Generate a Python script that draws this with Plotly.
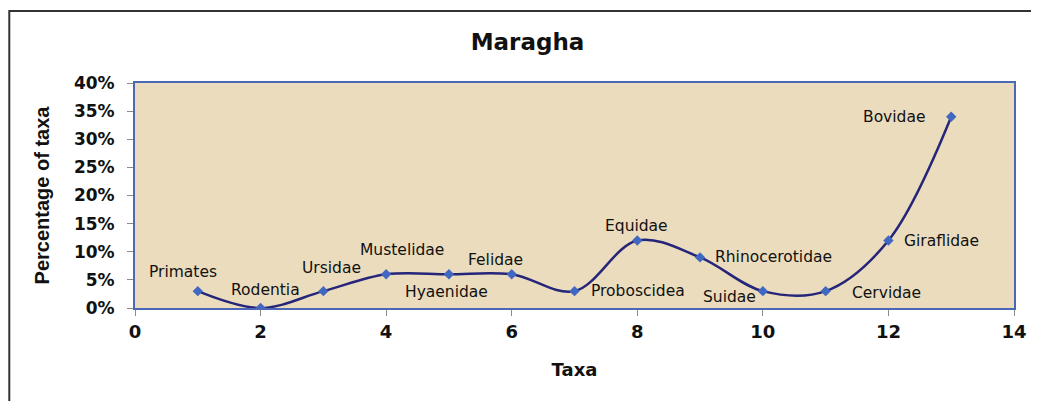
import plotly.graph_objects as go

# ---- data ----
taxa_index = [1, 2, 3, 4, 5, 6, 7, 8, 9, 10, 11, 12, 13]
taxa_names = ["Primates", "Rodentia", "Ursidae", "Mustelidae", "Hyaenidae", "Felidae",
              "Proboscidea", "Equidae", "Rhinocerotidae", "Suidae", "Cervidae",
              "Giraflidae", "Bovidae"]
percentages = [0.03, 0.00, 0.03, 0.06, 0.06, 0.06, 0.03, 0.12, 0.09, 0.03, 0.03, 0.12, 0.34]
y_tick_values = [0, 0.05, 0.10, 0.15, 0.20, 0.25, 0.30, 0.35, 0.40]
x_tick_values = [0, 2, 4, 6, 8, 10, 12, 14]

# label placement (pixel offsets, anchor)
label_dx = [-15, 5, 8, 16, -2, -16, 14, -1, 13, -5, 24, 14, -24]
label_dy = [19, 18, 23, 24, -18, 14, 0, 15, 0, -6, -2, 0, 0]
label_anchor = ["center", "center", "center", "center", "center", "center", "left",
                "center", "left", "right", "left", "left", "right"]

WIDE = "DejaVu Sans, Verdana, sans-serif"
ARIAL = "Liberation Sans, Arial, sans-serif"

# the page body has an 8px margin; size the figure so the plot lands where the reference has it
W, H = 1031, 393
ML, MR, MT, MB = 127, 23, 75, 93
PW, PH = W - ML - MR, H - MT - MB

fig = go.Figure()
fig.add_trace(go.Scatter(
    x=taxa_index, y=percentages, mode="lines+markers",
    line=dict(color="#25257A", width=2.5, shape="spline", smoothing=1.0),
    marker=dict(symbol="diamond", size=8, color="#4068C2"),
    hoverinfo="skip", showlegend=False,
))

for xi, yi, name, dx, dy, anc in zip(taxa_index, percentages, taxa_names,
                                      label_dx, label_dy, label_anchor):
    fig.add_annotation(x=xi, y=yi, text=name, showarrow=False,
                       xanchor=anc, yanchor="middle", xshift=dx, yshift=dy,
                       font=dict(family=WIDE, size=15.5, color="#111111"))

fig.update_layout(
    width=W, height=H,
    margin=dict(l=ML, r=MR, t=MT, b=MB),
    paper_bgcolor="white",
    plot_bgcolor="#EBDCBD",
    title=dict(text="<b>Maragha</b>", x=(527.5 - 8) / W,
               xref="container", y=1 - (42 - 8) / H, yref="container",
               xanchor="center", yanchor="middle",
               font=dict(family=WIDE, size=23, color="#111111")),
    xaxis=dict(range=[0, 14], tickvals=x_tick_values, ticks="outside", ticklen=6,
               tickcolor="#8A8A8A", showgrid=False, zeroline=False,
               showline=True, linecolor="#4A68B5", linewidth=2, mirror=True,
               tickfont=dict(family=WIDE, size=18, color="#111111", weight="bold"),
               title=dict(text="<b>Taxa</b>", font=dict(family=WIDE, size=18, color="#111111"),
                          standoff=23)),
    yaxis=dict(range=[0, 0.40], tickvals=y_tick_values, tickformat=".0%",
               ticks="outside", ticklen=6, tickcolor="#8A8A8A",
               ticklabelstandoff=9,
               showgrid=False, zeroline=False,
               showline=True, linecolor="#4A68B5", linewidth=2, mirror=True,
               tickfont=dict(family=WIDE, size=17, color="#111111", weight="bold"),
               title=dict(text="<b>Percentage of taxa</b>",
                          font=dict(family=ARIAL, size=20, color="#111111"),
                          standoff=19)),
)

# outer chart border (left and top visible, runs past the frame)
fig.add_shape(type="rect", xref="paper", yref="paper",
              x0=(1 - ML) / PW, x1=1.3, y0=-0.8, y1=1 + (MT - 3) / PH,
              line=dict(color="#333333", width=2), fillcolor="rgba(0,0,0,0)", layer="below")

fig.write_html("out.html")
